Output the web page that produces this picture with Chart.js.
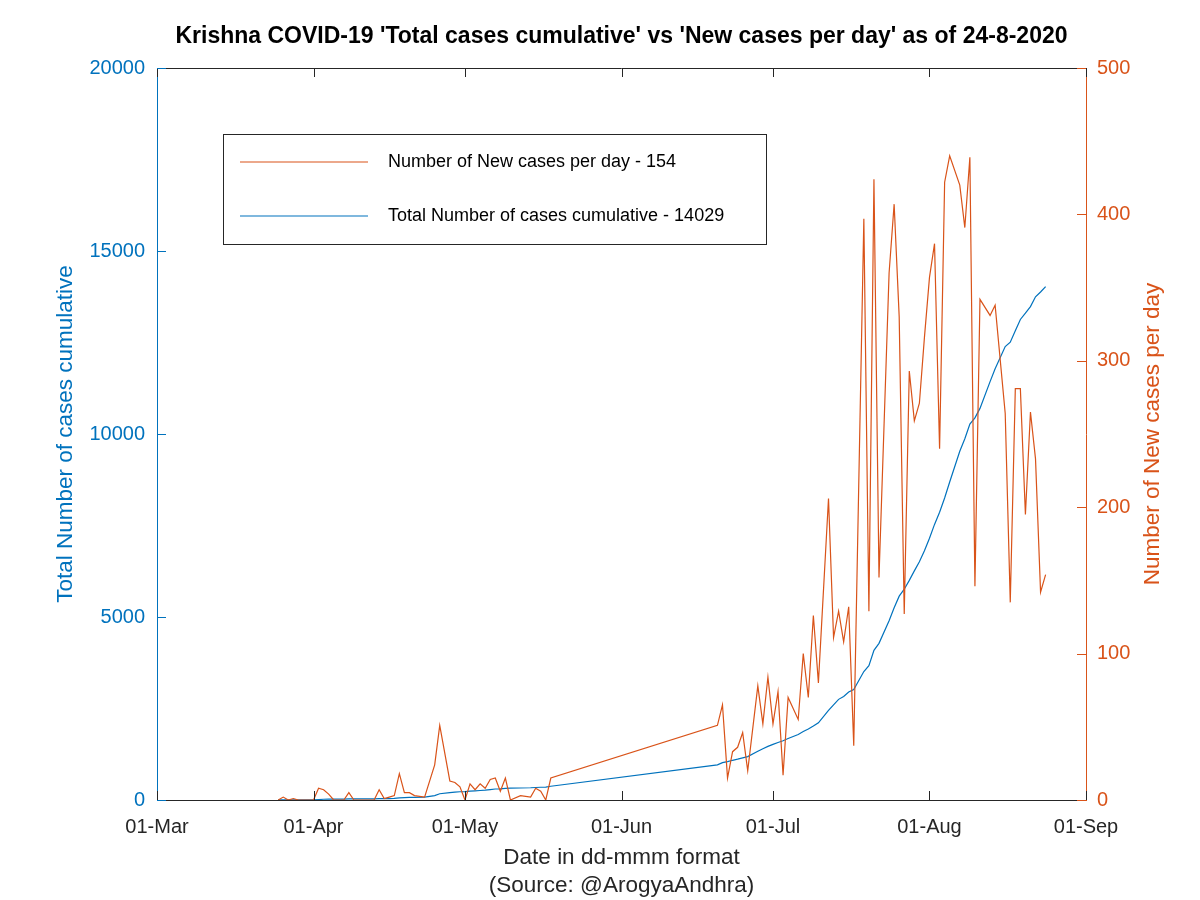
<!DOCTYPE html>
<html>
<head>
<meta charset="utf-8">
<title>Krishna COVID-19</title>
<script src="https://cdn.jsdelivr.net/npm/chart.js@4.4.0/dist/chart.umd.min.js"></script>
<style>
  html, body { margin: 0; padding: 0; background: #fff; }
  canvas { display: block; }
</style>
</head>
<body>
<canvas id="krishna-chart" width="1200" height="900"></canvas>
<script>
"use strict";

// x values are days counted from 01-Mar-2020
const monthTicks  = [0, 31, 61, 92, 122, 153, 184];
const monthLabels = ['01-Mar', '01-Apr', '01-May', '01-Jun', '01-Jul', '01-Aug', '01-Sep'];

const days = [24, 25, 26, 27, 28, 31, 32, 33, 34, 35, 37, 38, 39, 43, 44, 45, 46, 47, 48, 49, 50, 51, 53, 55, 56,
    58, 59, 60, 61, 62, 63, 64, 65, 66, 67, 68, 69, 70, 72, 74, 75, 76, 77, 78,
    111, 112, 113, 114, 115, 116, 117, 119, 120, 121, 122, 123, 124, 125, 127, 128, 129, 130, 131,
    133, 134, 135, 136, 137, 138, 140, 141, 142, 143, 145, 146, 147, 148, 149, 150, 151, 152, 153, 154, 155, 156, 157,
    159, 160, 161, 162, 163, 165, 166, 168, 169, 170, 171, 172, 173, 174, 175, 176];

const newCases = [0, 2, 0, 1, 0, 0, 8, 7, 4, 0, 0, 5, 0, 0, 7, 1, 2, 3, 18, 5, 5, 3, 2, 24, 51,
    13, 12, 9, 0, 11, 7, 11, 8, 14, 15, 6, 15, 0, 3, 2, 8, 6, 0, 15,
    51, 65, 15, 33, 36, 46, 20, 78, 52, 84, 52, 74, 17, 70, 55, 100, 70, 126, 80,
    206, 111, 129, 108, 132, 37, 397, 129, 424, 152, 360, 407, 330, 127, 293, 259, 271, 316, 357, 380, 240, 422, 440,
    420, 391, 439, 146, 342, 331, 338, 264, 135, 281, 281, 195, 265, 233, 142, 154];

const totalCases = [2, 4, 4, 5, 5, 5, 13, 20, 24, 24, 24, 29, 29, 29, 36, 37, 39, 42, 60, 65, 70, 73, 77, 120, 170,
    200, 215, 225, 230, 240, 250, 260, 270, 285, 300, 305, 320, 322, 328, 335, 342, 348, 350, 375,
    960, 1020, 1050, 1085, 1115, 1150, 1185, 1330, 1400, 1465, 1520, 1570, 1620, 1680, 1790, 1870, 1940, 2020, 2110,
    2450, 2600, 2750, 2830, 2950, 3020, 3510, 3670, 4090, 4280, 4900, 5250, 5570, 5760, 6000, 6260, 6510, 6810, 7150, 7530, 7860, 8250, 8690,
    9530, 9870, 10270, 10440, 10700, 11430, 11780, 12390, 12510, 12820, 13130, 13300, 13480, 13750, 13880, 14029];

const BLUE = '#0072BD';
const ORANGE = '#D95319';
const AXIS = '#262626';
const FONT = "'Liberation Sans', Arial, Helvetica, sans-serif";

const lastNew = newCases[newCases.length - 1];
const lastTotal = totalCases[totalCases.length - 1];

function points(values) {
    return days.map((d, i) => ({x: d, y: values[i]}));
}

// matlab style ticks pointing into the plot, plus the top box line
const inwardTicks = {
    id: 'inwardTicks',
    afterDatasetsDraw(chart) {
        const {ctx, chartArea: a, scales} = chart;
        const len = 9;
        ctx.save();
        ctx.lineWidth = 1;
        ctx.strokeStyle = AXIS;
        ctx.beginPath();
        ctx.moveTo(a.left, a.top + 0.5);
        ctx.lineTo(a.right, a.top + 0.5);
        scales.x.ticks.forEach(t => {
            const px = Math.round(scales.x.getPixelForValue(t.value)) + 0.5;
            ctx.moveTo(px, a.bottom);
            ctx.lineTo(px, a.bottom - len);
            ctx.moveTo(px, a.top);
            ctx.lineTo(px, a.top + len);
        });
        ctx.stroke();

        ctx.strokeStyle = BLUE;
        ctx.beginPath();
        scales.y.ticks.forEach(t => {
            const py = Math.round(scales.y.getPixelForValue(t.value)) + 0.5;
            ctx.moveTo(a.left, py);
            ctx.lineTo(a.left + len, py);
        });
        ctx.stroke();

        ctx.strokeStyle = ORANGE;
        ctx.beginPath();
        scales.y1.ticks.forEach(t => {
            const py = Math.round(scales.y1.getPixelForValue(t.value)) + 0.5;
            ctx.moveTo(a.right, py);
            ctx.lineTo(a.right - len, py);
        });
        ctx.stroke();
        ctx.restore();
    }
};

// right axis title reads bottom to top like the left one
const rightTitle = {
    id: 'rightTitle',
    afterDraw(chart) {
        const {ctx, chartArea: a} = chart;
        ctx.save();
        ctx.translate(1153, (a.top + a.bottom) / 2);
        ctx.rotate(-Math.PI / 2);
        ctx.fillStyle = ORANGE;
        ctx.font = '22.5px ' + FONT;
        ctx.textAlign = 'center';
        ctx.textBaseline = 'middle';
        ctx.fillText('Number of New cases per day', 0, 0);
        ctx.restore();
    }
};

// legend box inside the plot
const boxLegend = {
    id: 'boxLegend',
    afterDraw(chart) {
        const ctx = chart.ctx;
        const box = {x: 223, y: 134, w: 543, h: 110};
        ctx.save();
        ctx.fillStyle = '#fff';
        ctx.fillRect(box.x, box.y, box.w, box.h);
        ctx.strokeStyle = AXIS;
        ctx.lineWidth = 1;
        ctx.strokeRect(box.x + 0.5, box.y + 0.5, box.w, box.h);
        ctx.font = '18px ' + FONT;
        ctx.textBaseline = 'middle';
        chart.data.datasets.forEach((ds, i) => {
            const y = box.y + 28 + i * 54;
            ctx.strokeStyle = ds.borderColor;
            ctx.lineWidth = 1.2;
            ctx.beginPath();
            ctx.moveTo(box.x + 17, y);
            ctx.lineTo(box.x + 145, y);
            ctx.stroke();
            ctx.fillStyle = '#000';
            ctx.fillText(ds.label, box.x + 165, y);
        });
        ctx.restore();
    }
};

new Chart(document.getElementById('krishna-chart'), {
    type: 'line',
    data: {
        datasets: [{
            label: 'Number of New cases per day - ' + lastNew,
            data: points(newCases),
            yAxisID: 'y1',
            borderColor: ORANGE,
            backgroundColor: ORANGE,
            borderWidth: 1.2,
            pointRadius: 0,
            fill: false,
            tension: 0
        }, {
            label: 'Total Number of cases cumulative - ' + lastTotal,
            data: points(totalCases),
            yAxisID: 'y',
            borderColor: BLUE,
            backgroundColor: BLUE,
            borderWidth: 1.2,
            pointRadius: 0,
            fill: false,
            tension: 0
        }]
    },
    options: {
        responsive: false,
        animation: false,
        devicePixelRatio: 1,
        layout: {padding: 0},
        plugins: {
            legend: {display: false},
            tooltip: {enabled: false},
            title: {
                display: true,
                fullSize: false,
                text: "Krishna COVID-19 'Total cases cumulative' vs 'New cases per day' as of 24-8-2020",
                color: '#000',
                font: {family: FONT, size: 23, weight: 'bold', lineHeight: 1.2},
                padding: {top: 23, bottom: 17.4}
            }
        },
        scales: {
            x: {
                type: 'linear',
                min: monthTicks[0],
                max: monthTicks[monthTicks.length - 1],
                afterBuildTicks: scale => {
                    scale.ticks = monthTicks.map(v => ({value: v}));
                },
                afterFit: scale => { scale.height = 100; },
                ticks: {
                    autoSkip: false,
                    maxRotation: 0,
                    padding: 15,
                    color: AXIS,
                    font: {family: FONT, size: 20},
                    callback: value => monthLabels[monthTicks.indexOf(value)]
                },
                grid: {display: false, drawTicks: false},
                border: {display: true, color: AXIS, width: 1},
                title: {
                    display: true,
                    text: ['Date in dd-mmm format', '(Source: @ArogyaAndhra)'],
                    color: AXIS,
                    font: {family: FONT, size: 22.5, lineHeight: 28 / 22.5},
                    padding: {top: 0, bottom: 0}
                }
            },
            y: {
                position: 'left',
                min: 0,
                max: 20000,
                afterFit: scale => { scale.width = 157; },
                ticks: {
                    stepSize: 5000,
                    padding: 12,
                    color: BLUE,
                    font: {family: FONT, size: 20},
                    callback: value => String(value)
                },
                grid: {display: false, drawTicks: false},
                border: {display: true, color: BLUE, width: 1},
                title: {
                    display: true,
                    text: 'Total Number of cases cumulative',
                    color: BLUE,
                    font: {family: FONT, size: 22.5, lineHeight: 1.2},
                    padding: {top: 52.5, bottom: 0}
                }
            },
            y1: {
                position: 'right',
                min: 0,
                max: 500,
                afterFit: scale => { scale.width = 114; },
                ticks: {
                    stepSize: 100,
                    padding: 11,
                    color: ORANGE,
                    font: {family: FONT, size: 20},
                    callback: value => String(value)
                },
                grid: {display: false, drawTicks: false},
                border: {display: true, color: ORANGE, width: 1},
                title: {display: false}
            }
        }
    },
    plugins: [inwardTicks, rightTitle, boxLegend]
});
</script>
</body>
</html>
